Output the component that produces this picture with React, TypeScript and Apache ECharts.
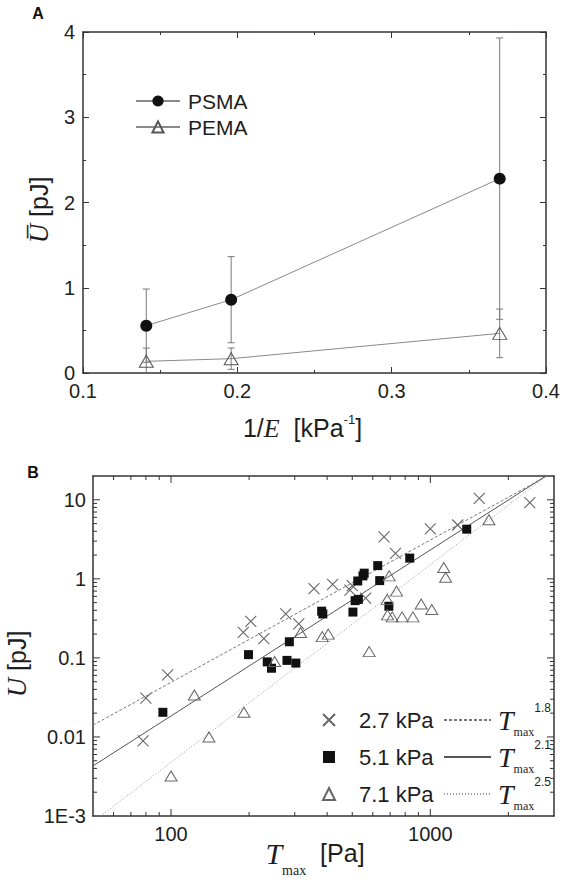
import React, { useEffect, useRef } from 'react';
import * as echarts from 'echarts';

// ---------- Panel A data ----------
const invE = [0.141, 0.196, 0.37];
const psmaU = [0.555, 0.86, 2.28];
const psmaErr = [0.43, 0.505, 1.65];
const pemaU = [0.137, 0.168, 0.465];
const pemaErr = [0.155, 0.125, 0.285];

// ---------- Panel B data ----------
const t27 = [78, 80, 97, 190, 203, 228, 277, 311, 356, 420, 490, 500, 563, 663, 734, 1000, 1275, 1545, 2420];
const u27 = [0.0089, 0.031, 0.061, 0.21, 0.29, 0.175, 0.36, 0.27, 0.75, 0.85, 0.72, 0.82, 0.57, 3.4, 2.1, 4.3, 4.8, 10.4, 9.2];
const t51 = [93, 199, 235, 244, 280, 286, 303, 381, 385, 503, 513, 528, 525, 550, 556, 627, 638, 692, 833, 1382];
const u51 = [0.0205, 0.11, 0.089, 0.074, 0.093, 0.16, 0.086, 0.39, 0.36, 0.38, 0.53, 0.55, 0.94, 1.09, 1.18, 1.47, 0.95, 0.45, 1.83, 4.25];
const t71 = [100, 123, 140, 191, 251, 316, 383, 404, 581, 682, 684, 694, 713, 741, 778, 857, 922, 1013, 1127, 1146, 1683];
const u71 = [0.0032, 0.034, 0.01, 0.0205, 0.09, 0.21, 0.186, 0.2, 0.12, 0.55, 0.35, 1.09, 0.33, 0.7, 0.33, 0.33, 0.48, 0.41, 1.39, 1.05, 5.6];

const fitT18 = [50, 2820];
const fitU18 = [0.0141, 20];
const fitT21 = [50, 2790];
const fitU21 = [0.0043, 20];
const fitT25 = [53.5, 2810];
const fitU25 = [0.001, 20];

const pressureNames = ['2.7 kPa', '5.1 kPa', '7.1 kPa'];
const fitNames = ['Tmax^1.8', 'Tmax^2.1', 'Tmax^2.5'];
const fitExponents = ['1.8', '2.1', '2.5'];

// tick values (panel B, log axes)
const xMajorB = [100, 1000];
const xMinorB = [60, 70, 80, 90, 200, 300, 400, 500, 600, 700, 800, 900, 2000];
const yMajorB = [0.01, 0.1, 1, 10];
const yDecadesB = [0.001, 0.01, 0.1, 1];
const yMinorMult = [2, 3, 4, 5, 6, 7, 8, 9];

const SANS = '"Liberation Sans", Arial, sans-serif';
const SERIF = '"Liberation Serif", "Times New Roman", serif';
const FRAME = '#333';
const TXT = '#1e1e1e';

const X_MIN_B = 50;
const X_MAX_B = 3000;
const Y_MIN_B = 0.001;
const Y_MAX_B = 20;

function zip(a: number[], b: number[]) {
  return a.map((v, i) => [v, b[i]]);
}

function logLabel(v: number) {
  const l = Math.log10(v);
  if (Math.abs(l - Math.round(l)) > 1e-6) return '';
  const r = Math.round(l);
  if (r === -3) return '1E-3';
  if (r < 0) return (Math.pow(10, r)).toFixed(-r);
  return String(Math.round(Math.pow(10, r)));
}

const errRender = (params: any, api: any) => {
  const x = api.value(0);
  const lo = api.value(1);
  const hi = api.value(2);
  const pLo = api.coord([x, lo]);
  const pHi = api.coord([x, hi]);
  const w = 3.5;
  const st = { stroke: '#7a7a7a', lineWidth: 1 };
  return {
    type: 'group',
    children: [
      { type: 'line', shape: { x1: pLo[0], y1: pLo[1], x2: pHi[0], y2: pHi[1] }, style: st },
      { type: 'line', shape: { x1: pLo[0] - w, y1: pLo[1], x2: pLo[0] + w, y2: pLo[1] }, style: st },
      { type: 'line', shape: { x1: pHi[0] - w, y1: pHi[1], x2: pHi[0] + w, y2: pHi[1] }, style: st },
    ],
  };
};

const xTickRender = (params: any, api: any) => {
  const v = api.value(0);
  const major = api.value(2);
  const pb = api.coord([v, Y_MIN_B]);
  const pt = api.coord([v, Y_MAX_B]);
  const len = major ? 7 : 4;
  const st = { stroke: FRAME, lineWidth: 1 };
  return {
    type: 'group',
    children: [
      { type: 'line', shape: { x1: pb[0], y1: pb[1], x2: pb[0], y2: pb[1] - len }, style: st },
      { type: 'line', shape: { x1: pt[0], y1: pt[1], x2: pt[0], y2: pt[1] + len }, style: st },
    ],
  };
};

const yTickRender = (params: any, api: any) => {
  const v = api.value(1);
  const major = api.value(2);
  const pl = api.coord([X_MIN_B, v]);
  const pr = api.coord([X_MAX_B, v]);
  const len = major ? 7 : 4;
  const st = { stroke: FRAME, lineWidth: 1 };
  return {
    type: 'group',
    children: [
      { type: 'line', shape: { x1: pl[0], y1: pl[1], x2: pl[0] + len, y2: pl[1] }, style: st },
      { type: 'line', shape: { x1: pr[0], y1: pr[1], x2: pr[0] - len, y2: pr[1] }, style: st },
    ],
  };
};

function buildOption() {
  const axisLine = { show: true, onZero: false, lineStyle: { color: FRAME, width: 1.5 } };
  const tickA = { show: true, inside: true, length: 6, lineStyle: { color: FRAME, width: 1 } };
  const minorA = { show: true, splitNumber: 2, length: 3, lineStyle: { color: FRAME, width: 1 } };
  const labelStyle = { fontFamily: SANS, fontSize: 20, lineHeight: 18, color: TXT };

  const xTickData = [
    ...xMajorB.map((v) => [v, 1, 1]),
    ...xMinorB.map((v) => [v, 1, 0]),
  ];
  const yTickData: number[][] = yMajorB.map((v) => [100, v, 1]);
  yDecadesB.forEach((d) => yMinorMult.forEach((m) => yTickData.push([100, d * m, 0])));

  const hiddenSymbolStyle = { color: 'rgba(0,0,0,0)', borderWidth: 0 };

  return {
    animation: false,
    backgroundColor: '#ffffff',
    textStyle: { fontFamily: SANS },
    grid: [
      { left: 83, top: 32, width: 463, height: 341, containLabel: false, outerBoundsMode: 'none' },
      { left: 93, top: 476, width: 461, height: 340, containLabel: false, outerBoundsMode: 'none' },
    ],
    graphic: [
      { type: 'text', x: 38, y: 13, style: { text: 'A', font: 'bold 16px "Liberation Sans", Arial', fill: '#111', align: 'center', verticalAlign: 'middle' } },
      { type: 'text', x: 33, y: 472, style: { text: 'B', font: 'bold 16px "Liberation Sans", Arial', fill: '#111', align: 'center', verticalAlign: 'middle' } },
    ],
    xAxis: [
      {
        gridIndex: 0, type: 'value', min: 0.1, max: 0.4, interval: 0.1, position: 'bottom',
        axisLine, axisTick: tickA, minorTick: minorA, splitLine: { show: false },
        axisLabel: { ...labelStyle, margin: 9 },
        name: '{a|1/}{e|E}{a|  [kPa}{p|-1}{a|]}',
        nameLocation: 'middle', nameGap: 40, nameMoveOverlap: false,
        nameTextStyle: {
          padding: [0, 24, 0, 0],
          rich: {
            a: { fontFamily: SANS, fontSize: 25, lineHeight: 30, color: TXT },
            e: { fontFamily: SERIF, fontStyle: 'italic', fontSize: 26, lineHeight: 30, color: TXT },
            p: { fontFamily: SANS, fontSize: 13, lineHeight: 14, verticalAlign: 'top', color: TXT },
          },
        },
      },
      {
        gridIndex: 0, type: 'value', min: 0.1, max: 0.4, interval: 0.1, position: 'top',
        axisLine, axisTick: tickA, minorTick: minorA, splitLine: { show: false }, axisLabel: { show: false },
      },
      {
        gridIndex: 1, type: 'log', logBase: 10, min: X_MIN_B, max: X_MAX_B, position: 'bottom',
        axisLine, axisTick: { show: false }, splitLine: { show: false },
        axisLabel: { ...labelStyle, margin: 9, formatter: logLabel, showMinLabel: false, showMaxLabel: false },
        name: '{t|T}{s|max}{a|  [Pa]}',
        nameLocation: 'middle', nameGap: 13, nameMoveOverlap: false,
        nameTextStyle: {
          padding: [0, 17, 0, 0],
          rich: {
            t: { fontFamily: SERIF, fontStyle: 'italic', fontSize: 30, lineHeight: 48, color: TXT },
            s: { fontFamily: SERIF, fontSize: 14, lineHeight: 14, verticalAlign: 'bottom', color: TXT },
            a: { fontFamily: SANS, fontSize: 25, lineHeight: 30, color: TXT },
          },
        },
      },
      {
        gridIndex: 1, type: 'log', logBase: 10, min: X_MIN_B, max: X_MAX_B, position: 'top',
        axisLine, axisTick: { show: false }, splitLine: { show: false }, axisLabel: { show: false },
      },
    ],
    yAxis: [
      {
        gridIndex: 0, type: 'value', min: 0, max: 4, interval: 1, position: 'left',
        axisLine, axisTick: tickA, minorTick: minorA, splitLine: { show: false },
        axisLabel: { ...labelStyle, margin: 8 },
        name: '{u|U\u0305}{a| [pJ]}',
        nameLocation: 'middle', nameGap: 29, nameMoveOverlap: false,
        nameTextStyle: {
          padding: [0, 15, 0, 0],
          rich: {
            u: { fontFamily: SERIF, fontStyle: 'italic', fontSize: 27, lineHeight: 30, color: TXT },
            a: { fontFamily: SANS, fontSize: 25, lineHeight: 30, color: TXT },
          },
        },
      },
      {
        gridIndex: 0, type: 'value', min: 0, max: 4, interval: 1, position: 'right',
        axisLine, axisTick: tickA, minorTick: minorA, splitLine: { show: false }, axisLabel: { show: false },
      },
      {
        gridIndex: 1, type: 'log', logBase: 10, min: Y_MIN_B, max: Y_MAX_B, position: 'left',
        axisLine, axisTick: { show: false }, splitLine: { show: false },
        axisLabel: { ...labelStyle, margin: 7, formatter: logLabel, showMaxLabel: false },
        name: '{u|U}{a| [pJ]}',
        nameLocation: 'middle', nameGap: 63, nameMoveOverlap: false,
        nameTextStyle: {
          padding: [0, 36, 0, 0],
          rich: {
            u: { fontFamily: SERIF, fontStyle: 'italic', fontSize: 27, lineHeight: 26, color: TXT },
            a: { fontFamily: SANS, fontSize: 25, lineHeight: 26, color: TXT },
          },
        },
      },
      {
        gridIndex: 1, type: 'log', logBase: 10, min: Y_MIN_B, max: Y_MAX_B, position: 'right',
        axisLine, axisTick: { show: false }, splitLine: { show: false }, axisLabel: { show: false },
      },
    ],
    legend: [
      {
        data: ['PSMA', 'PEMA'], orient: 'vertical', left: 130, top: 84,
        itemWidth: 44, itemHeight: 14, itemGap: 2, selectedMode: false,
        textStyle: { fontFamily: SANS, fontSize: 21, lineHeight: 24, color: TXT, padding: [0, 0, 0, 3] },
      },
      {
        data: pressureNames, orient: 'vertical', left: 317, top: 697,
        itemWidth: 12, itemHeight: 12, itemGap: 1, selectedMode: false, symbolKeepAspect: true,
        textStyle: { fontFamily: SANS, fontSize: 22, lineHeight: 36, color: TXT, padding: [0, 0, 0, 19] },
      },
      {
        data: fitNames, orient: 'vertical', left: 438, top: 697,
        itemWidth: 47, itemHeight: 14, itemGap: 1, selectedMode: false,
        formatter: (name: string) => `{t|T}{s|max}{p|${fitExponents[fitNames.indexOf(name)]}}`,
        textStyle: {
          color: TXT,
          rich: {
            t: { fontFamily: SERIF, fontStyle: 'italic', fontSize: 28, lineHeight: 36, color: TXT, padding: [0, 0, 0, 2] },
            s: { fontFamily: SERIF, fontSize: 12, lineHeight: 14, verticalAlign: 'bottom', color: TXT },
            p: { fontFamily: SANS, fontSize: 12, lineHeight: 14, verticalAlign: 'top', color: TXT },
          },
        },
      },
    ],
    series: [
      // ---- panel A ----
      {
        type: 'custom', name: 'PSMA err', xAxisIndex: 0, yAxisIndex: 0, clip: true, silent: true, z: 1,
        renderItem: errRender,
        data: invE.map((x, i) => [x, psmaU[i] - psmaErr[i], psmaU[i] + psmaErr[i]]),
      },
      {
        type: 'custom', name: 'PEMA err', xAxisIndex: 0, yAxisIndex: 0, clip: true, silent: true, z: 1,
        renderItem: errRender,
        data: invE.map((x, i) => [x, pemaU[i] - pemaErr[i], pemaU[i] + pemaErr[i]]),
      },
      {
        type: 'line', name: 'PSMA', xAxisIndex: 0, yAxisIndex: 0, z: 3,
        data: zip(invE, psmaU), symbol: 'circle', symbolSize: 12, showSymbol: true,
        itemStyle: { color: '#111' }, lineStyle: { color: '#8a8a8a', width: 1 },
      },
      {
        type: 'line', name: 'PEMA', xAxisIndex: 0, yAxisIndex: 0, z: 3,
        data: zip(invE, pemaU), symbol: 'triangle', symbolSize: [14, 12], showSymbol: true,
        itemStyle: { color: 'rgba(255,255,255,0)', borderColor: '#555', borderWidth: 1 },
        lineStyle: { color: '#8a8a8a', width: 1 },
      },
      // ---- panel B ----
      {
        type: 'custom', name: 'xticks', xAxisIndex: 2, yAxisIndex: 2, clip: false, silent: true, z: 5,
        renderItem: xTickRender, data: xTickData,
      },
      {
        type: 'custom', name: 'yticks', xAxisIndex: 2, yAxisIndex: 2, clip: false, silent: true, z: 5,
        renderItem: yTickRender, data: yTickData,
      },
      {
        type: 'line', name: fitNames[0], xAxisIndex: 2, yAxisIndex: 2, symbol: 'circle', symbolSize: 1, showSymbol: false, z: 2,
        itemStyle: hiddenSymbolStyle,
        data: zip(fitT18, fitU18), lineStyle: { color: '#777', width: 1, type: [3, 2] },
      },
      {
        type: 'line', name: fitNames[1], xAxisIndex: 2, yAxisIndex: 2, symbol: 'circle', symbolSize: 1, showSymbol: false, z: 2,
        itemStyle: hiddenSymbolStyle,
        data: zip(fitT21, fitU21), lineStyle: { color: '#555', width: 1, type: 'solid' },
      },
      {
        type: 'line', name: fitNames[2], xAxisIndex: 2, yAxisIndex: 2, symbol: 'circle', symbolSize: 1, showSymbol: false, z: 2,
        itemStyle: hiddenSymbolStyle,
        data: zip(fitT25, fitU25), lineStyle: { color: '#999', width: 1, type: [1, 2] },
      },
      {
        type: 'scatter', name: pressureNames[0], xAxisIndex: 2, yAxisIndex: 2, z: 4,
        data: zip(t27, u27), symbol: 'path://M0,0L10,10M0,10L10,0', symbolSize: 11,
        itemStyle: { color: 'rgba(0,0,0,0)', borderColor: '#666', borderWidth: 1.1, opacity: 1 },
      },
      {
        type: 'scatter', name: pressureNames[1], xAxisIndex: 2, yAxisIndex: 2, z: 4,
        data: zip(t51, u51), symbol: 'rect', symbolSize: 9,
        itemStyle: { color: '#111', opacity: 1 },
      },
      {
        type: 'scatter', name: pressureNames[2], xAxisIndex: 2, yAxisIndex: 2, z: 4,
        data: zip(t71, u71), symbol: 'triangle', symbolSize: [12, 10],
        itemStyle: { color: 'rgba(255,255,255,0)', borderColor: '#666', borderWidth: 1, opacity: 1 },
      },
    ],
  };
}

export default function App() {
  const ref = useRef<HTMLDivElement>(null);
  useEffect(() => {
    if (!ref.current) return;
    const chart = echarts.init(ref.current, undefined, { renderer: 'svg' });
    chart.setOption(buildOption() as any);
    return () => chart.dispose();
  }, []);
  return (
    <div
      ref={ref}
      style={{ position: 'absolute', left: 0, top: 0, width: 561, height: 879, background: '#fff' }}
    />
  );
}
